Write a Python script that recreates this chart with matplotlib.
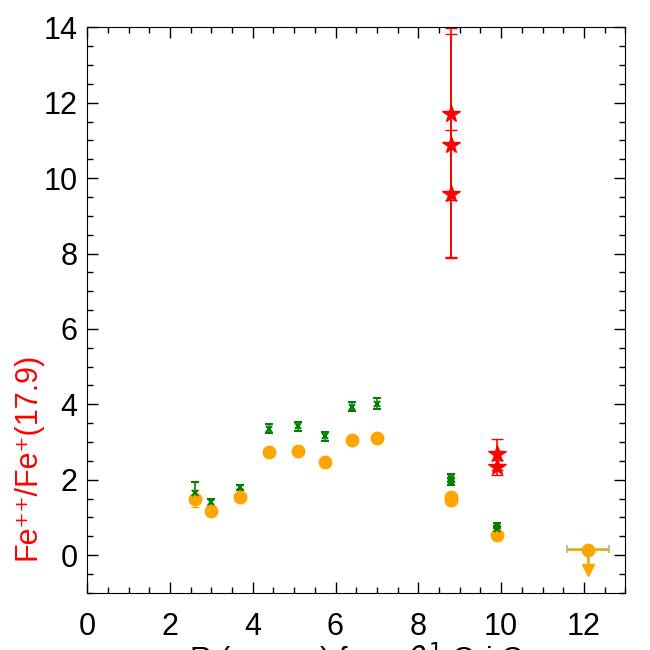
import numpy as np
import matplotlib.pyplot as plt
from matplotlib.ticker import MultipleLocator

plt.rcParams['font.family'] = ['Liberation Sans', 'DejaVu Sans']

# orange circles
x_or = [2.6, 3.0, 3.7, 4.4, 5.1, 5.75, 6.4, 7.0, 8.8, 8.8, 9.9]
y_or = [1.5, 1.16, 1.53, 2.74, 2.77, 2.46, 3.06, 3.1, 1.55, 1.45, 0.53]
e_or = [0.22, 0.05, 0.06, 0.1, 0.1, 0.1, 0.1, 0.12, 0.05, 0.05, 0.04]

# green crosses
x_gr = [2.6, 3.0, 3.7, 4.4, 5.1, 5.75, 6.4, 7.0, 8.8, 8.8, 9.9, 9.9]
y_gr = [1.65, 1.4, 1.8, 3.35, 3.42, 3.15, 3.93, 4.02, 2.05, 1.95, 0.78, 0.7]
e_gr = [0.28, 0.1, 0.07, 0.12, 0.12, 0.12, 0.12, 0.15, 0.1, 0.1, 0.07, 0.07]

# red stars
x_rd = [8.8, 8.8, 8.8, 9.9, 9.9]
y_rd = [11.7, 10.87, 9.58, 2.67, 2.33]
e_rd = [2.27, 2.95, 1.7, 0.42, 0.2]

# upper limit point at 12.1
x_lim = 12.1
y_lim_or = 0.13
y_lim_gr = 0.17
x_wid = 0.5
y_arrow = -0.4

fig = plt.figure(figsize=(6.5, 6.5), dpi=100)
ax = fig.add_axes([0.134, 0.088, 0.828, 0.870])

orange = '#ffa500'
green = '#008000'
red = '#ff0000'

# limit point bars
ax.errorbar([x_lim], [y_lim_gr], xerr=x_wid, yerr=[[0.44], [0]], fmt='x', color=green,
            ecolor='#8fcb8f', ms=5, capsize=3, elinewidth=2, mew=1.2)
ax.errorbar([x_lim], [y_lim_or], xerr=x_wid, yerr=[[0.5], [0]], fmt='o', color=orange,
            ms=9, elinewidth=1.5, capsize=0)
ax.plot([x_lim], [y_arrow], 'v', color=orange, ms=8)

ax.errorbar(x_or, y_or, yerr=e_or, fmt='o', color=orange, ms=9, capsize=3, elinewidth=1.2)
ax.errorbar(x_gr, y_gr, yerr=e_gr, fmt='x', color=green, ms=5, mew=1.5, capsize=3, elinewidth=1.2)
ax.errorbar(x_rd, y_rd, yerr=e_rd, fmt='*', color=red, ms=13, capsize=4, elinewidth=1.2)

ax.set_xlim(0, 13)
ax.set_ylim(-1, 14)
ax.xaxis.set_major_locator(MultipleLocator(2))
ax.xaxis.set_minor_locator(MultipleLocator(0.5))
ax.yaxis.set_major_locator(MultipleLocator(2))
ax.yaxis.set_minor_locator(MultipleLocator(0.5))
ax.tick_params(which='both', direction='in', top=True, right=True, labelsize=22, width=1)
ax.tick_params(which='major', length=8)
ax.tick_params(axis='x', which='major', pad=14)
ax.tick_params(axis='y', which='major', pad=7)
ax.tick_params(which='minor', length=4)

# y label sits low on the left edge
fig.text(28 / 650, 1 - 456 / 650, 'Fe\u207a\u207a/Fe\u207a(17.9)', color=red, fontsize=22,
         rotation=90, ha='center', va='center')
# x label is cut by the bottom edge
fig.text(356 / 650, -0.032, r'R (arcsec) from $\theta^1$ Ori C', fontsize=22,
         ha='center', va='baseline')

fig.savefig('out.png', dpi=100)
